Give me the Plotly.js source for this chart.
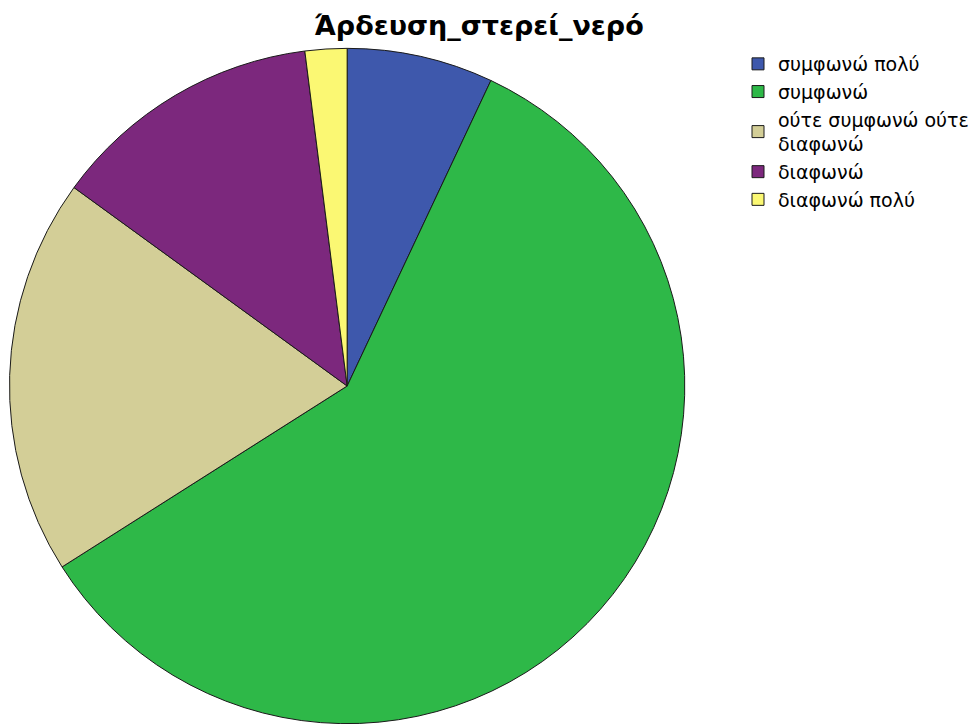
<!DOCTYPE html>
<html>
<head>
<meta charset="utf-8">
<script src="https://cdn.plot.ly/plotly-3.0.1.min.js"></script>
<style>
  html, body { margin: 0; padding: 0; background: #fff; }
  #chart { width: 974px; height: 724px; }
</style>
</head>
<body>
<div id="chart"></div>
<script>
// answer categories and their share (percent)
const categories = ['συμφωνώ πολύ', 'συμφωνώ', 'ούτε συμφωνώ ούτε<br>διαφωνώ', 'διαφωνώ', 'διαφωνώ πολύ'];
const shares = [7, 59, 19, 13, 2];
const sliceColors = ['#3e58ac', '#2eb848', '#d3ce97', '#7c287d', '#fbf873'];

const W = 974, H = 724;
const cx = 347.5, cy = 386, r = 338;

const data = [{
    type: 'pie',
    labels: categories,
    values: shares,
    sort: false,
    direction: 'clockwise',
    rotation: 0,
    textinfo: 'none',
    hoverinfo: 'label+percent',
    marker: { colors: sliceColors, line: { color: '#1a1a1a', width: 1 } },
    domain: {
        x: [(cx - r) / W, (cx + r) / W],
        y: [(H - cy - r) / H, (H - cy + r) / H]
    }
}];

const layout = {
    width: W,
    height: H,
    margin: { l: 0, r: 0, t: 0, b: 0 },
    paper_bgcolor: '#ffffff',
    title: {
        text: '<b>Άρδευση_στερεί_νερό</b>',
        font: { family: 'DejaVu Sans, sans-serif', size: 27, color: '#000' },
        xref: 'container', yref: 'container',
        x: 479 / W, xanchor: 'center',
        y: 1 - 26 / H, yanchor: 'middle'
    },
    showlegend: true,
    legend: {
        x: 739 / W, xanchor: 'left',
        y: 1 - 45 / H, yanchor: 'top',
        font: { family: 'DejaVu Sans, sans-serif', size: 19, color: '#000' },
        bgcolor: 'rgba(0,0,0,0)',
        itemclick: false
    }
};

Plotly.newPlot('chart', data, layout, { displayModeBar: false, staticPlot: true });
</script>
</body>
</html>
